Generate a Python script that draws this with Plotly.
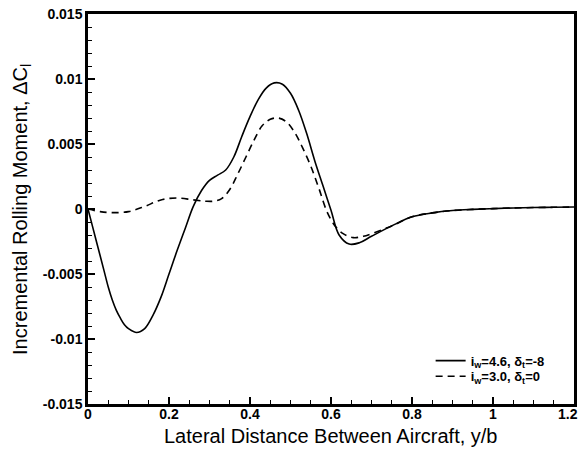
import plotly.graph_objects as go

# Series 1: i_w=4.6, delta_t=-8 (solid)
x_solid = [0, 0.01, 0.02, 0.03, 0.04, 0.05, 0.06, 0.07, 0.08, 0.09, 0.10, 0.12, 0.14, 0.16, 0.18,
           0.20, 0.22, 0.24, 0.26, 0.28, 0.30, 0.32, 0.34, 0.36, 0.38, 0.40, 0.42, 0.44, 0.46,
           0.48, 0.50, 0.52, 0.54, 0.56, 0.58, 0.60, 0.62, 0.645, 0.67, 0.70, 0.75, 0.80,
           0.85, 0.90, 0.95, 1.0, 1.05, 1.1, 1.15, 1.2]
y_solid = [0, -0.0012, -0.0024, -0.0036, -0.0048, -0.0060, -0.0070, -0.0078, -0.0084, -0.0089,
           -0.0092, -0.0095, -0.0092, -0.0082, -0.0068,
           -0.0050, -0.0032, -0.0015, 0.0002, 0.0014, 0.0022, 0.0026, 0.0030, 0.0040, 0.0056,
           0.0071, 0.0084, 0.0093, 0.0097,
           0.0096, 0.0089, 0.0076, 0.0058, 0.0037, 0.0018, -0.0001, -0.0020, -0.0027, -0.0026,
           -0.0021, -0.0013, -0.0006,
           -0.0003, -0.00012, -0.00003, 0.00003, 0.00008, 0.00011, 0.00013, 0.00015]

# Series 2: i_w=3.0, delta_t=0 (dashed)
x_dash = [0, 0.03, 0.06, 0.10, 0.14, 0.18, 0.22, 0.26, 0.29, 0.31, 0.33, 0.35, 0.37, 0.39, 0.41,
          0.43, 0.45, 0.47, 0.49, 0.51, 0.53, 0.55, 0.57, 0.59, 0.61, 0.63, 0.655, 0.68, 0.70,
          0.75, 0.80, 0.85, 0.90, 0.95, 1.0, 1.05, 1.1, 1.15, 1.2]
y_dash = [0, -0.0002, -0.00028, -0.0002, 0.0002, 0.0007, 0.00085, 0.0007, 0.0006, 0.0006, 0.0008,
          0.0015, 0.0027, 0.0040, 0.0053,
          0.0064, 0.0069, 0.0070, 0.0067, 0.0059, 0.0047, 0.0033, 0.0016, -0.0002, -0.0013,
          -0.0019, -0.0022, -0.0021, -0.0019,
          -0.0013, -0.0006, -0.0003, -0.00012, -0.00003, 0.00003, 0.00008, 0.00011, 0.00013, 0.00015]

x_ticks = [0, 0.2, 0.4, 0.6, 0.8, 1.0, 1.2]
x_labels = ["0", "0.2", "0.4", "0.6", "0.8", "1", "1.2"]
y_ticks = [-0.015, -0.01, -0.005, 0, 0.005, 0.01, 0.015]
y_labels = ["-0.015", "-0.01", "-0.005", "0", "0.005", "0.01", "0.015"]

series_names = ["<b>i<sub>w</sub>=4.6, δ<sub>t</sub>=-8</b>", "<b>i<sub>w</sub>=3.0, δ<sub>t</sub>=0</b>"]
x_title = "Lateral Distance Between Aircraft, y/b"
y_title = "Incremental Rolling Moment, ΔC<sub>l</sub>"

FONT = "Liberation Sans, Arial, sans-serif"

fig = go.Figure()
fig.add_trace(go.Scatter(x=x_solid, y=y_solid, mode="lines", name=series_names[0], legend="legend",
                         line=dict(color="black", width=1.6, shape="spline", smoothing=1.0)))
fig.add_trace(go.Scatter(x=x_dash, y=y_dash, mode="lines", name=series_names[1], legend="legend2",
                         line=dict(color="black", width=1.6, dash="7px,5px", shape="spline", smoothing=1.0)))

leg_common = dict(xanchor="left", yanchor="middle", bgcolor="rgba(0,0,0,0)",
                  font=dict(size=13, family=FONT), itemwidth=30)

# last x tick label sits at the page edge; it is drawn as a right-aligned annotation
x_ticktext = ["<b>%s</b>" % t for t in x_labels[:-1]] + [""]

fig.update_layout(
    width=583, height=449,
    margin=dict(l=88, r=9, t=14, b=45, autoexpand=False),
    paper_bgcolor="white", plot_bgcolor="white",
    font=dict(family=FONT, color="black"),
    showlegend=True,
    legend=dict(x=0.705, y=0.111, **leg_common),
    legend2=dict(x=0.705, y=0.071, **leg_common),
    xaxis=dict(range=[0, 1.2], tickvals=x_ticks, ticktext=x_ticktext,
               ticks="inside", ticklen=7, tickwidth=2, tickcolor="black",
               minor=dict(dtick=0.05, ticks="inside", ticklen=4, tickwidth=1, tickcolor="black"),
               showline=True, linewidth=2.5, linecolor="black", mirror=True,
               showgrid=False, zeroline=False, automargin=False,
               ticklabelstandoff=-5,
               tickfont=dict(size=14, family=FONT)),
    yaxis=dict(range=[-0.015, 0.015], tickvals=y_ticks, ticktext=["<b>%s</b>" % t for t in y_labels],
               ticks="inside", ticklen=7, tickwidth=2, tickcolor="black",
               minor=dict(dtick=0.001, ticks="inside", ticklen=4, tickwidth=1, tickcolor="black"),
               showline=True, linewidth=2.5, linecolor="black", mirror=True,
               showgrid=False, zeroline=False, automargin=False,
               tickfont=dict(size=14, family=FONT)),
    annotations=[
        dict(text="<b>%s</b>" % x_labels[-1], xref="x", yref="paper", x=x_ticks[-1], y=0.0,
             xanchor="right", yanchor="top", xshift=5, yshift=-1, showarrow=False, borderpad=0,
             font=dict(size=14, family=FONT)),
        dict(text=x_title, xref="paper", yref="paper", x=0.5, y=-0.081, xanchor="center",
             yanchor="middle", showarrow=False, font=dict(size=20, family=FONT)),
        dict(text=y_title, xref="paper", yref="paper", x=-0.138, y=0.5, xanchor="center",
             yanchor="middle", showarrow=False, textangle=-90, font=dict(size=20, family=FONT)),
    ],
)

fig.write_html("out.html",
               config={"displayModeBar": False},
               post_script="document.body.style.margin='0';document.body.style.overflow='hidden';")
